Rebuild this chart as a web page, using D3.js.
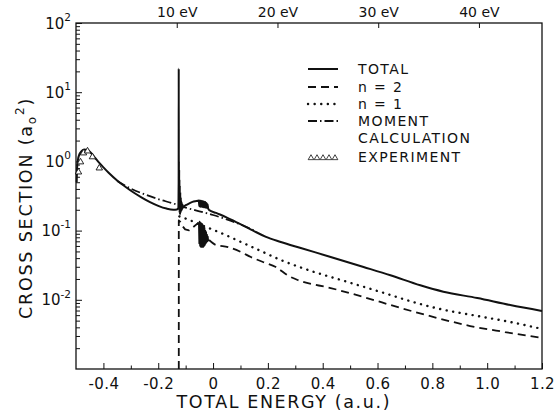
<!DOCTYPE html>
<html><head><meta charset="utf-8">
<script src="https://cdn.jsdelivr.net/npm/d3@7"></script>
<style>
body{margin:0;background:#fff}
svg{display:block}
text{font-family:"DejaVu Sans",sans-serif;fill:#111}
</style>
</head><body>
<svg id="c" width="554" height="414"></svg>
<script>
// ---- data (total energy in a.u., cross section in a0^2) ----
const totalE = [-0.4975,-0.4960,-0.4930,-0.487,-0.480,-0.470,-0.458,-0.445,-0.430,-0.415,-0.40,-0.38,-0.35,-0.32,-0.29,-0.26,-0.23,-0.20,-0.17,-0.145,-0.132,-0.127,
  -0.1255,-0.1252,-0.1249,-0.1245,-0.1241,-0.1236,-0.1231,-0.1226,-0.1220,-0.1213,-0.1205,-0.1196,-0.1186,-0.1175,-0.1163,-0.1150,-0.1135,-0.1118,-0.110,
  -0.105,-0.095,-0.085,-0.075,-0.065,-0.055,
  -0.052,-0.050,-0.048,-0.046,-0.044,-0.042,-0.040,-0.038,-0.036,-0.034,-0.032,-0.030,-0.028,-0.026,-0.024,-0.022,-0.020,-0.018,
  -0.0145,0.011,0.047,0.084,0.12,0.156,0.193,0.247,0.32,0.429,0.549,0.647,0.756,0.84,0.964,1.084,1.2];
const totalV = [0.50,0.80,1.05,1.28,1.40,1.48,1.46,1.32,1.12,0.95,0.82,0.68,0.53,0.43,0.355,0.30,0.258,0.228,0.208,0.20,0.202,0.21,
  0.5,22,0.4,1.0,0.25,0.75,0.2,0.55,0.18,0.45,0.17,0.36,0.18,0.30,0.19,0.26,0.20,0.24,0.215,
  0.225,0.238,0.250,0.260,0.266,0.270,
  0.272,0.225,0.272,0.222,0.270,0.222,0.268,0.220,0.265,0.218,0.262,0.216,0.258,0.214,0.25,0.212,0.24,0.21,
  0.199,0.180,0.157,0.133,0.113,0.0955,0.081,0.0685,0.056,0.0416,0.0298,0.0226,0.0162,0.0131,0.0106,0.0084,0.0069];

const n2E = [-0.1250,-0.1250,-0.1200,-0.1127,-0.1018,-0.0873,-0.0727,-0.0582,-0.052];
const n2V = [0.001,0.14,0.135,0.118,0.104,0.101,0.112,0.125,0.13];
const n2ResE = [-0.052,-0.0505,-0.049,-0.0475,-0.046,-0.0445,-0.043,-0.0415,-0.040,-0.0385,-0.037,-0.0355,-0.034,-0.0325,-0.031,-0.0295,-0.028,-0.0265,-0.025,-0.0235,-0.022,-0.0205,-0.019,-0.0175,-0.0145];
const n2ResV = [0.13,0.065,0.135,0.06,0.13,0.058,0.128,0.058,0.125,0.058,0.12,0.058,0.115,0.06,0.11,0.062,0.10,0.065,0.095,0.068,0.088,0.07,0.082,0.072,0.0731];
const n2TailE = [-0.0145,0.0109,0.0545,0.1018,0.138,0.182,0.229,0.276,0.309,0.429,0.549,0.684,0.818,0.938,1.065,1.2];
const n2TailV = [0.0731,0.0619,0.0579,0.0491,0.0415,0.0352,0.0298,0.0221,0.0193,0.0148,0.01097,0.00762,0.00546,0.00418,0.00342,0.00281];

const n1E = [-0.123,-0.1055,-0.0436,0.029,0.102,0.1745,0.247,0.331,0.491,0.611,0.756,0.818,0.964,1.084,1.2];
const n1V = [0.16,0.152,0.1205,0.0923,0.0684,0.0507,0.0376,0.0283,0.0181,0.0130,0.00869,0.00752,0.00584,0.00478,0.00379];

const momentE = [-0.35,-0.30,-0.25,-0.20,-0.15,-0.10,-0.05,0.0,0.05,0.10,0.15];
const momentV = [0.52,0.405,0.335,0.285,0.25,0.215,0.19,0.168,0.145,0.123,0.10];

const expE = [-0.491,-0.4836,-0.4727,-0.458,-0.44,-0.415];
const expV = [0.70,0.98,1.32,1.41,1.16,0.80];

const xTicks = [-0.4,-0.2,0,0.2,0.4,0.6,0.8,1.0,1.2];
const xTickLabels = ["-0.4","-0.2","0","0.2","0.4","0.6","0.8","1.0","1.2"];
const xMinorTicks = [-0.3,-0.1,0.1,0.3,0.5,0.7,0.9,1.1];
const yTicks = [1e-2,1e-1,1e0,1e1,1e2];
const topTicksEV = [10,20,30,40];
const topTickLabels = ["10 eV","20 eV","30 eV","40 eV"];
const HARTREE = 27.2114;

const legendLabels = ["TOTAL","n = 2","n = 1","MOMENT","EXPERIMENT"];

// ---- drawing ----
const svg = d3.select("#c");
const L=76,R=542,T=23,B=369;
const x = d3.scaleLinear().domain([-0.5,1.2]).range([L,R]);
const y = d3.scaleLog().domain([1e-3,1e2]).range([B,T]);
const xev = d3.scaleLinear().domain([0,(1.2+0.5)*HARTREE]).range([L,R]);
const ink="#111";

const zip=(a,b)=>a.map((v,i)=>[v,b[i]]);
const line = d3.line().x(d=>x(d[0])).y(d=>y(d[1]));
const smooth = d3.line().x(d=>x(d[0])).y(d=>y(d[1])).curve(d3.curveMonotoneX);

// axes
const gB = svg.append("g").attr("transform",`translate(0,${B})`)
  .call(d3.axisBottom(x).tickValues(xTicks).tickFormat((d,i)=>xTickLabels[i]).tickSizeInner(-6).tickSizeOuter(0).tickPadding(9));
const gBm = svg.append("g").attr("transform",`translate(0,${B})`)
  .call(d3.axisBottom(x).tickValues(xMinorTicks).tickFormat("").tickSizeInner(-3.5).tickSizeOuter(0));
const gT = svg.append("g").attr("transform",`translate(0,${T})`)
  .call(d3.axisTop(xev).tickValues(topTicksEV).tickFormat((d,i)=>topTickLabels[i]).tickSizeInner(-5).tickSizeOuter(0).tickPadding(6));
const gL = svg.append("g").attr("transform",`translate(${L},0)`)
  .call(d3.axisLeft(y).tickValues(yTicks).tickSizeInner(-6).tickSizeOuter(0).tickPadding(5).tickFormat(d=>""));
const minor = y.ticks().filter(v=>Math.abs(Math.log10(v)-Math.round(Math.log10(v)))>1e-6);
const gLm = svg.append("g").attr("transform",`translate(${L},0)`)
  .call(d3.axisLeft(y).tickValues(minor).tickFormat("").tickSizeInner(-4).tickSizeOuter(0));

[gB,gBm,gT,gL,gLm].forEach(g=>{
  g.selectAll("path.domain").remove();
  g.selectAll("line").attr("stroke",ink).attr("stroke-width",1);
  g.selectAll("text").attr("fill",ink).attr("font-family","DejaVu Sans");
});
gBm.selectAll("text").remove();
gLm.selectAll("text").remove();
gB.selectAll(".tick text").attr("font-size",15).attr("letter-spacing",0.4);
gT.selectAll(".tick text").attr("font-size",14);
gL.selectAll(".tick text").each(function(d){
  const t=d3.select(this).attr("font-size",15).attr("dy","0.34em");
  t.text(null);
  t.append("tspan").text("10");
  t.append("tspan").attr("font-size",10.5).attr("dy","-0.75em").text(String(Math.round(Math.log10(d))));
});

// frame
svg.append("rect").attr("x",L).attr("y",T).attr("width",R-L).attr("height",B-T)
  .attr("fill","none").attr("stroke",ink).attr("stroke-width",1.3);

// curves
const plot = svg.append("g");
const sty = {
  total:{w:2,dash:null},
  n2:{w:1.8,dash:"8,5"},
  n1:{w:2.4,dash:"0.1,6.5",cap:"round"},
  mom:{w:1.8,dash:"9,3,1.5,3"}
};
function draw(data,s,gen){
  const p=plot.append("path").attr("d",(gen||line)(data)).attr("fill","none").attr("stroke",ink)
    .attr("stroke-width",s.w).attr("stroke-linejoin","round");
  if(s.dash) p.attr("stroke-dasharray",s.dash);
  if(s.cap) p.attr("stroke-linecap",s.cap);
  return p;
}
draw(zip(momentE,momentV),sty.mom,smooth);
draw(zip(n1E,n1V),sty.n1,smooth);
draw(zip(n2E,n2V),sty.n2);
draw(zip(n2ResE,n2ResV),{w:1.6,dash:null});
draw(zip(n2TailE,n2TailV),sty.n2,smooth);
draw(zip(totalE,totalV),sty.total,smooth);

const tri = d3.symbol().type(d3.symbolTriangle).size(18);
plot.selectAll("path.exp").data(zip(expE,expV)).join("path").attr("class","exp")
  .attr("d",tri).attr("transform",d=>`translate(${x(d[0])},${y(d[1])})`)
  .attr("fill","#fff").attr("stroke",ink).attr("stroke-width",0.9);

// legend
const lg = svg.append("g").attr("font-size",14).attr("letter-spacing",1.4);
const lx0=308,lx1=338,tx=358;
const rows=[69,87,104,121,157];
const styles=[sty.total,sty.n2,sty.n1,sty.mom];
styles.forEach((s,i)=>{
  const p=lg.append("line").attr("x1",lx0).attr("x2",lx1).attr("y1",rows[i]).attr("y2",rows[i])
    .attr("stroke",ink).attr("stroke-width",s.w);
  if(s.dash) p.attr("stroke-dasharray",s.dash);
  if(s.cap) p.attr("stroke-linecap",s.cap);
});
const triL = d3.symbol().type(d3.symbolTriangle).size(14);
[0,1,2,3,4].forEach(k=>{
  lg.append("path").attr("d",triL).attr("transform",`translate(${lx0+3+k*6},${rows[4]+1})`)
    .attr("fill","#fff").attr("stroke",ink).attr("stroke-width",0.8);
});
legendLabels.forEach((t,i)=>{
  lg.append("text").attr("x",tx).attr("y",rows[i]).attr("dy","0.36em").text(t);
});
lg.append("text").attr("x",tx).attr("y",138).attr("dy","0.36em").text("CALCULATION");

// axis titles
svg.append("text").attr("x",283).attr("y",408).attr("text-anchor","middle")
  .attr("font-size",17.5).attr("textLength",213).attr("lengthAdjust","spacing").text("TOTAL ENERGY (a.u.)");
const yt = svg.append("text").attr("transform","translate(32,208) rotate(-90)").attr("text-anchor","middle")
  .attr("font-size",17.5).attr("letter-spacing",1.8);
yt.append("tspan").text("CROSS  SECTION (a");
yt.append("tspan").attr("font-size",12).attr("dy",4).text("o");
yt.append("tspan").attr("font-size",12).attr("dy",-12).text("2");
yt.append("tspan").attr("dy",8).text(")");
</script>
</body></html>
